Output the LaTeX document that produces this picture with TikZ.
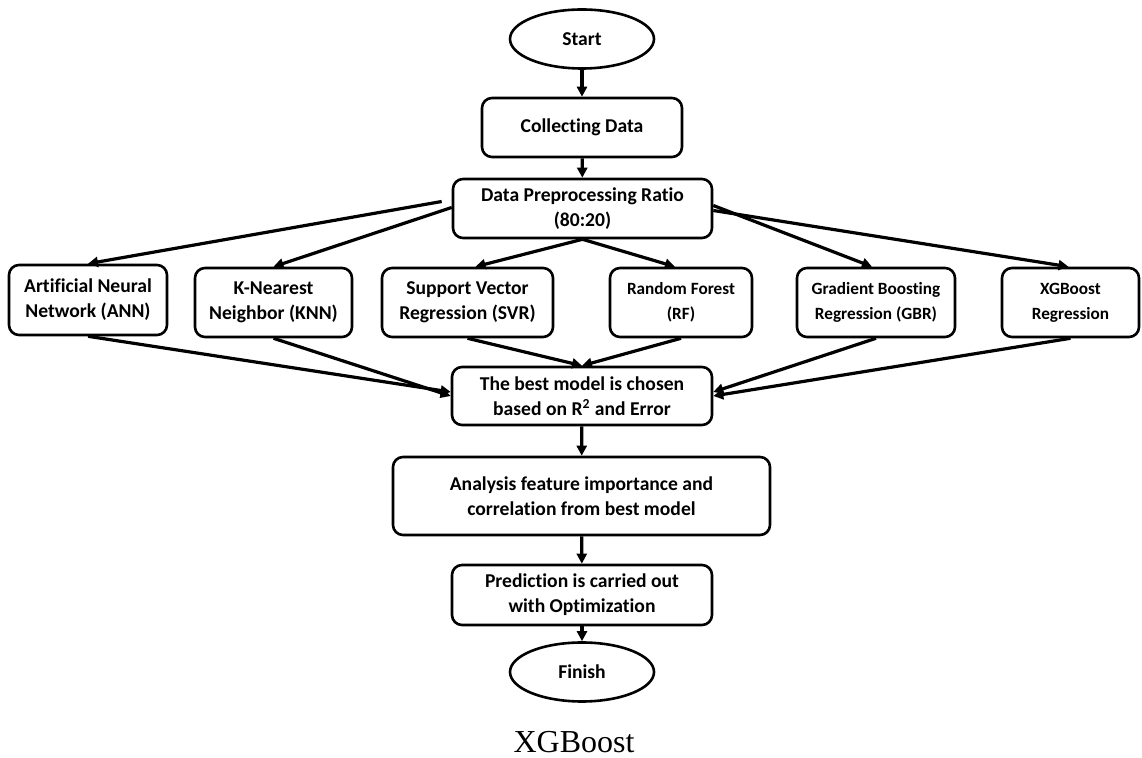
\documentclass[tikz,border=0pt]{standalone}
\usepackage{fontspec}
\setmainfont{Carlito}[Ligatures=NoCommon]
\newfontfamily\captionfont{Liberation Serif}
\usetikzlibrary{shapes.geometric}
\usetikzlibrary{arrows.meta}

\begin{document}
\begin{tikzpicture}[x=0.5pt, y=-0.5pt,
  box/.style={draw, line width=1.3pt, rounded corners=5pt, align=center, inner sep=0pt,
              font=\bfseries\fontsize{9.8}{12.5}\selectfont},
  smallbox/.style={box, font=\bfseries\fontsize{8.6}{12.5}\selectfont},
  term/.style={draw, ellipse, line width=1.3pt, inner sep=0pt,
               minimum width=72pt, minimum height=29.5pt,
               font=\bfseries\fontsize{9.8}{11}\selectfont},
  arr/.style={line width=1.6pt, -{Triangle[length=5pt,width=5pt]}}]
  \useasboundingbox (0,0) rectangle (1142,758);

  % Top of the flow
  \node[term] (start) at (582,39) {Start};
  \node[box, minimum width=100pt, minimum height=29.5pt] (collect) at (582,127.5) {Collecting Data};
  \node[box, minimum width=129.5pt, minimum height=29.5pt] (prep) at (582.5,208.5)
    {Data Preprocessing Ratio\\(80:20)};

  % Models
  \node[box, minimum width=79pt, minimum height=35pt] (ann) at (88,300) {Artificial Neural\\Network (ANN)};
  \node[box, minimum width=78.5pt, minimum height=34.5pt] (knn) at (273.5,302.5) {K-Nearest\\Neighbor (KNN)};
  \node[box, minimum width=85.5pt, minimum height=34.5pt] (svr) at (467.5,302.5) {Support Vector\\Regression (SVR)};
  \node[smallbox, minimum width=71pt, minimum height=34.5pt] (rf) at (681,302.5) {Random Forest\\(RF)};
  \node[smallbox, minimum width=79pt, minimum height=34.5pt] (gbr) at (876,302.5) {Gradient Boosting\\Regression (GBR)};
  \node[smallbox, minimum width=68.5pt, minimum height=34.5pt] (xgb) at (1070.5,302.5) {XGBoost\\Regression};

  % Bottom of the flow
  \node[box, minimum width=130pt, minimum height=29pt] (best) at (582,396)
    {The best model is chosen\\based on R\textsuperscript{2} and Error};
  \node[box, minimum width=188.5pt, minimum height=39pt] (feat) at (581.5,496)
    {Analysis feature importance and\\correlation from best model};
  \node[box, minimum width=130pt, minimum height=30pt] (pred) at (582,595)
    {Prediction is carried out\\with Optimization};
  \node[term] (finish) at (582,672) {Finish};

  % Caption
  \node[anchor=base, inner sep=0pt, font=\captionfont\fontsize{16}{18}\selectfont] (cap) at (574,753) {XGBoost};

  % Arrows
  \draw[arr] (start) -- (collect);
  \draw[arr] (collect) -- (prep);
  \draw[arr] ([xshift=-5pt,yshift=3.5pt]prep.west) -- (ann.north);
  \draw[arr] ([yshift=0.5pt]prep.west) -- (knn.north);
  \draw[arr] (prep.south) -- ([xshift=4pt]svr.north);
  \draw[arr] (prep.south) -- ([xshift=-3pt]rf.north);
  \draw[arr] ([yshift=1.5pt]prep.east) -- ([xshift=-2pt]gbr.north);
  \draw[arr] ([yshift=-1pt]prep.east) -- ([xshift=-1pt]xgb.north);

  \draw[arr] (ann.south) -- ([yshift=2pt]best.west);
  \draw[arr] (knn.south) -- (best.west);
  \draw[arr] (svr.south) -- (best.north);
  \draw[arr] (rf.south) -- (best.north);
  \draw[arr] (gbr.south) -- ([yshift=2pt]best.east);
  \draw[arr] (xgb.south) -- (best.east);

  \draw[arr] (best) -- (feat);
  \draw[arr] (feat) -- (pred);
  \draw[arr] (pred) -- (finish);
\end{tikzpicture}
\end{document}
